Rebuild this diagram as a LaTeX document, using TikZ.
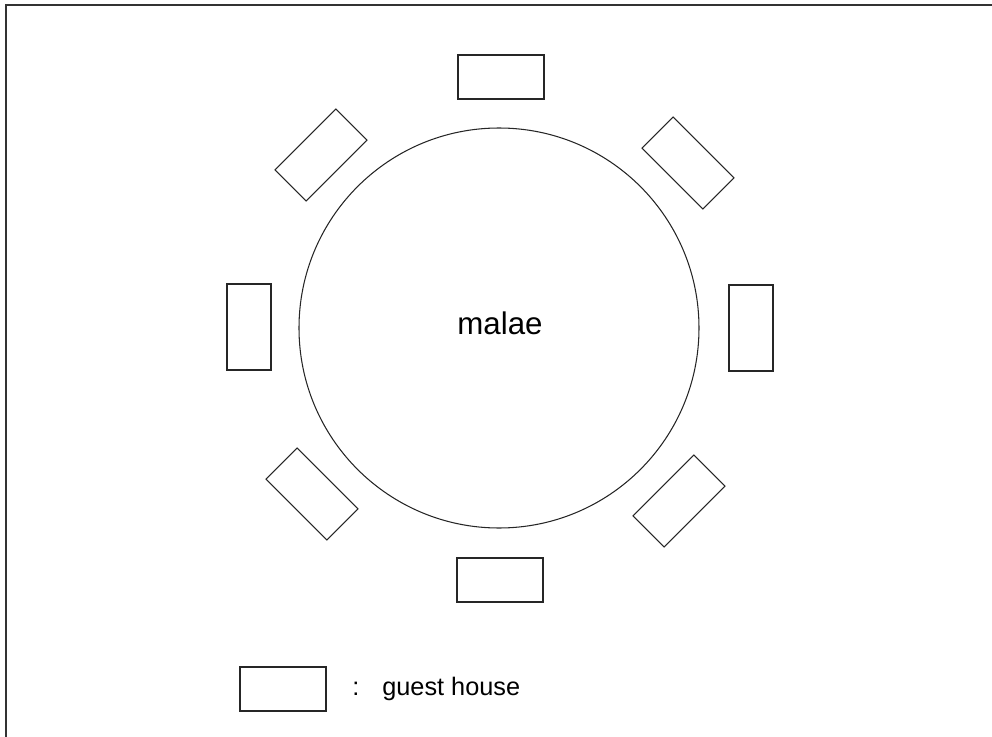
\documentclass[tikz,border=0pt]{standalone}
\usepackage{fontspec}
\setmainfont{Liberation Sans}
\usepackage{tikz}

\tikzset{
  house/.style={draw=black!85, line width=0.6pt, minimum width=1.72cm, minimum height=0.88cm, inner sep=0pt},
}

\begin{document}
\begin{tikzpicture}[x=0.02cm,y=-0.02cm]
\useasboundingbox (0,0) rectangle (992,737);
\draw[line width=1pt, black!80] (6,740) -- (6,5) -- (995,5);
% the square and its name
\draw[line width=0.6pt, black!85] (499,328) circle (200);
\node[anchor=base, font=\fontsize{17.8}{21}\selectfont] (malae) at (500,334) {malae};
% guest houses round the square
\node[house] (hN)  at (501,77) {};
\node[house, rotate=-45] (hNE) at (688,163) {};
\node[house, rotate=90] (hE)  at (751,328) {};
\node[house, rotate=45] (hSE) at (679,501) {};
\node[house] (hS)  at (500,580) {};
\node[house, rotate=-45] (hSW) at (312,494) {};
\node[house, rotate=90] (hW)  at (249,327) {};
\node[house, rotate=45] (hNW) at (321,155) {};
% key
\node[house] (key) at (283,689) {};
\node[anchor=base, font=\fontsize{14.4}{17}\selectfont] (colon) at (356,695) {:};
\node[anchor=base west, inner sep=0pt, font=\fontsize{14.4}{17}\selectfont] (keytext) at (382,695) {guest house};
\end{tikzpicture}
\end{document}
